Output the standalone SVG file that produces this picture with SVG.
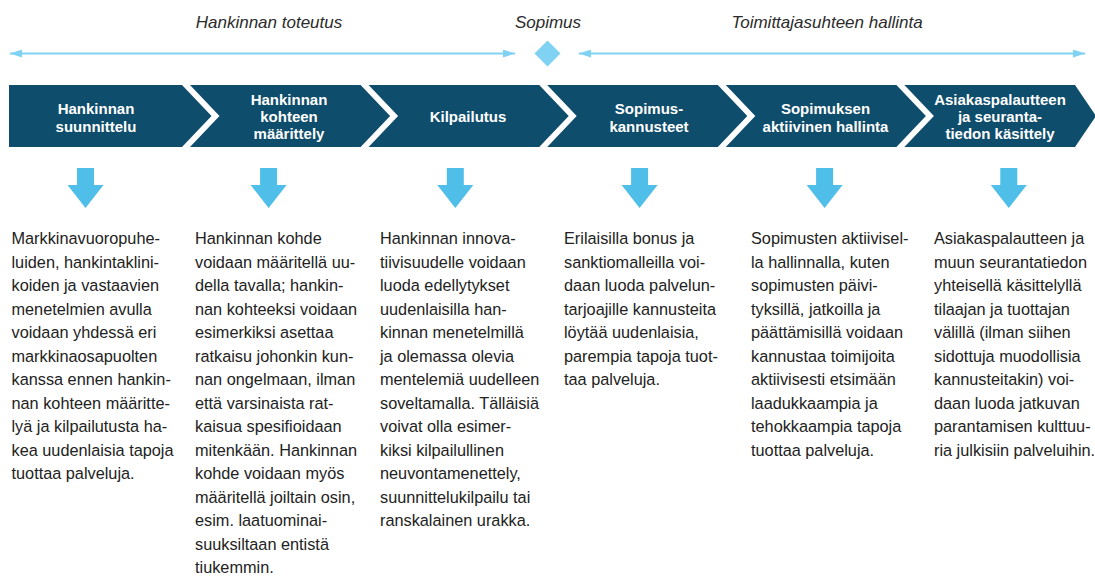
<svg xmlns="http://www.w3.org/2000/svg" width="1095" height="580" viewBox="0 0 1095 580">
  <style>
    .phase { font-family: "Liberation Sans", Arial, sans-serif; font-size: 17px; font-style: italic; fill: #2b2b2b; text-anchor: middle; }
    .step { fill: #0e4d6b; }
    .step-label { font-family: "Liberation Sans", Arial, sans-serif; font-size: 15px; font-weight: bold; fill: #ffffff; text-anchor: middle; }
    .timeline { stroke: #80d2f2; stroke-width: 2; fill: none; }
    .down { fill: #4fbee9; }
    .body { font-family: "Liberation Sans", Arial, sans-serif; font-size: 16.3px; fill: #222222; }
  </style>
  <defs>
    <marker id="tip" viewBox="0 0 12 8" refX="12" refY="4" markerWidth="12" markerHeight="8" markerUnits="userSpaceOnUse" orient="auto-start-reverse">
      <path d="M0,0 L12,4 L0,8 Z" fill="#80d2f2"/>
    </marker>
    <path id="down-arrow" d="M-8.5,0 H8.5 V17 H18 L0,40 L-18,17 H-8.5 Z"/>
  </defs>

  <!-- Phase headings above the timeline -->
  <g id="phases">
    <text class="phase" x="269" y="28">Hankinnan toteutus</text>
    <text class="phase" x="548" y="28">Sopimus</text>
    <text class="phase" x="827" y="28">Toimittajasuhteen hallinta</text>
  </g>

  <!-- Timeline spans and the contract milestone -->
  <g id="connectors">
    <line class="timeline" x1="10" y1="53.5" x2="515" y2="53.5" marker-start="url(#tip)" marker-end="url(#tip)"/>
    <line class="timeline" x1="579" y1="53.5" x2="1085" y2="53.5" marker-start="url(#tip)" marker-end="url(#tip)"/>
    <use href="#down-arrow" class="down" x="85.5" y="168"/>
    <use href="#down-arrow" class="down" x="268.6" y="168"/>
    <use href="#down-arrow" class="down" x="455.3" y="168"/>
    <use href="#down-arrow" class="down" x="639.6" y="168"/>
    <use href="#down-arrow" class="down" x="824.6" y="168"/>
    <use href="#down-arrow" class="down" x="1008.8" y="168"/>
  </g>
  <g id="milestone">
    <polygon points="547.5,40.5 560.5,53.5 547.5,66.5 534.5,53.5" fill="#80d2f2"/>
  </g>

  <!-- Process steps -->
  <g id="step-1">
    <polygon class="step" points="9,85 182,85 211.5,116 182,147 9,147"/>
    <text class="step-label" x="96" y="114">Hankinnan</text>
    <text class="step-label" x="96" y="131.5">suunnittelu</text>
  </g>
  <g id="step-2">
    <polygon class="step" points="190,85 360.6,85 390.1,116 360.6,147 190,147 219.5,116"/>
    <text class="step-label" x="289" y="105">Hankinnan</text>
    <text class="step-label" x="289" y="122">kohteen</text>
    <text class="step-label" x="289" y="139">määrittely</text>
  </g>
  <g id="step-3">
    <polygon class="step" points="368.6,85 539.2,85 568.7,116 539.2,147 368.6,147 398.1,116"/>
    <text class="step-label" x="468" y="122">Kilpailutus</text>
  </g>
  <g id="step-4">
    <polygon class="step" points="547.2,85 717.8,85 747.3,116 717.8,147 547.2,147 576.7,116"/>
    <text class="step-label" x="649" y="114">Sopimus-</text>
    <text class="step-label" x="649" y="131.5">kannusteet</text>
  </g>
  <g id="step-5">
    <polygon class="step" points="725.8,85 896.4,85 925.9,116 896.4,147 725.8,147 755.3,116"/>
    <text class="step-label" x="825.5" y="114">Sopimuksen</text>
    <text class="step-label" x="825.5" y="131.5">aktiivinen hallinta</text>
  </g>
  <g id="step-6">
    <polygon class="step" points="904.4,85 1075,85 1096,116 1075,147 904.4,147 933.9,116"/>
    <text class="step-label" x="1000" y="105">Asiakaspalautteen</text>
    <text class="step-label" x="1000" y="122">ja seuranta-</text>
    <text class="step-label" x="1000" y="139">tiedon käsittely</text>
  </g>

  <!-- Descriptions under each step -->
  <g id="desc-1">
    <text class="body">
      <tspan x="11.5" y="244">Markkinavuoropuhe-</tspan>
      <tspan x="11.5" y="267.5">luiden, hankintaklini-</tspan>
      <tspan x="11.5" y="291">koiden ja vastaavien</tspan>
      <tspan x="11.5" y="314.5">menetelmien avulla</tspan>
      <tspan x="11.5" y="338">voidaan yhdessä eri</tspan>
      <tspan x="11.5" y="361.5">markkinaosapuolten</tspan>
      <tspan x="11.5" y="385">kanssa ennen hankin-</tspan>
      <tspan x="11.5" y="408.5">nan kohteen määritte-</tspan>
      <tspan x="11.5" y="432">lyä ja kilpailutusta ha-</tspan>
      <tspan x="11.5" y="455.5">kea uudenlaisia tapoja</tspan>
      <tspan x="11.5" y="479">tuottaa palveluja.</tspan>
    </text>
  </g>
  <g id="desc-2">
    <text class="body">
      <tspan x="195" y="244">Hankinnan kohde</tspan>
      <tspan x="195" y="267.5">voidaan määritellä uu-</tspan>
      <tspan x="195" y="291">della tavalla; hankin-</tspan>
      <tspan x="195" y="314.5">nan kohteeksi voidaan</tspan>
      <tspan x="195" y="338">esimerkiksi asettaa</tspan>
      <tspan x="195" y="361.5">ratkaisu johonkin kun-</tspan>
      <tspan x="195" y="385">nan ongelmaan, ilman</tspan>
      <tspan x="195" y="408.5">että varsinaista rat-</tspan>
      <tspan x="195" y="432">kaisua spesifioidaan</tspan>
      <tspan x="195" y="455.5">mitenkään. Hankinnan</tspan>
      <tspan x="195" y="479">kohde voidaan myös</tspan>
      <tspan x="195" y="502.5">määritellä joiltain osin,</tspan>
      <tspan x="195" y="526">esim. laatuominai-</tspan>
      <tspan x="195" y="549.5">suuksiltaan entistä</tspan>
      <tspan x="195" y="573">tiukemmin.</tspan>
    </text>
  </g>
  <g id="desc-3">
    <text class="body">
      <tspan x="380" y="244">Hankinnan innova-</tspan>
      <tspan x="380" y="267.5">tiivisuudelle voidaan</tspan>
      <tspan x="380" y="291">luoda edellytykset</tspan>
      <tspan x="380" y="314.5">uudenlaisilla han-</tspan>
      <tspan x="380" y="338">kinnan menetelmillä</tspan>
      <tspan x="380" y="361.5">ja olemassa olevia</tspan>
      <tspan x="380" y="385">mentelemiä uudelleen</tspan>
      <tspan x="380" y="408.5">soveltamalla. Tälläisiä</tspan>
      <tspan x="380" y="432">voivat olla esimer-</tspan>
      <tspan x="380" y="455.5">kiksi kilpailullinen</tspan>
      <tspan x="380" y="479">neuvontamenettely,</tspan>
      <tspan x="380" y="502.5">suunnittelukilpailu tai</tspan>
      <tspan x="380" y="526">ranskalainen urakka.</tspan>
    </text>
  </g>
  <g id="desc-4">
    <text class="body">
      <tspan x="564" y="244">Erilaisilla bonus ja</tspan>
      <tspan x="564" y="267.5">sanktiomalleilla voi-</tspan>
      <tspan x="564" y="291">daan luoda palvelun-</tspan>
      <tspan x="564" y="314.5">tarjoajille kannusteita</tspan>
      <tspan x="564" y="338">löytää uudenlaisia,</tspan>
      <tspan x="564" y="361.5">parempia tapoja tuot-</tspan>
      <tspan x="564" y="385">taa palveluja.</tspan>
    </text>
  </g>
  <g id="desc-5">
    <text class="body">
      <tspan x="751" y="244">Sopimusten aktiivisel-</tspan>
      <tspan x="751" y="267.5">la hallinnalla, kuten</tspan>
      <tspan x="751" y="291">sopimusten päivi-</tspan>
      <tspan x="751" y="314.5">tyksillä, jatkoilla ja</tspan>
      <tspan x="751" y="338">päättämisillä voidaan</tspan>
      <tspan x="751" y="361.5">kannustaa toimijoita</tspan>
      <tspan x="751" y="385">aktiivisesti etsimään</tspan>
      <tspan x="751" y="408.5">laadukkaampia ja</tspan>
      <tspan x="751" y="432">tehokkaampia tapoja</tspan>
      <tspan x="751" y="455.5">tuottaa palveluja.</tspan>
    </text>
  </g>
  <g id="desc-6">
    <text class="body">
      <tspan x="934" y="244">Asiakaspalautteen ja</tspan>
      <tspan x="934" y="267.5">muun seurantatiedon</tspan>
      <tspan x="934" y="291">yhteisellä käsittelyllä</tspan>
      <tspan x="934" y="314.5">tilaajan ja tuottajan</tspan>
      <tspan x="934" y="338">välillä (ilman siihen</tspan>
      <tspan x="934" y="361.5">sidottuja muodollisia</tspan>
      <tspan x="934" y="385">kannusteitakin) voi-</tspan>
      <tspan x="934" y="408.5">daan luoda jatkuvan</tspan>
      <tspan x="934" y="432">parantamisen kulttuu-</tspan>
      <tspan x="934" y="455.5">ria julkisiin palveluihin.</tspan>
    </text>
  </g>
</svg>
